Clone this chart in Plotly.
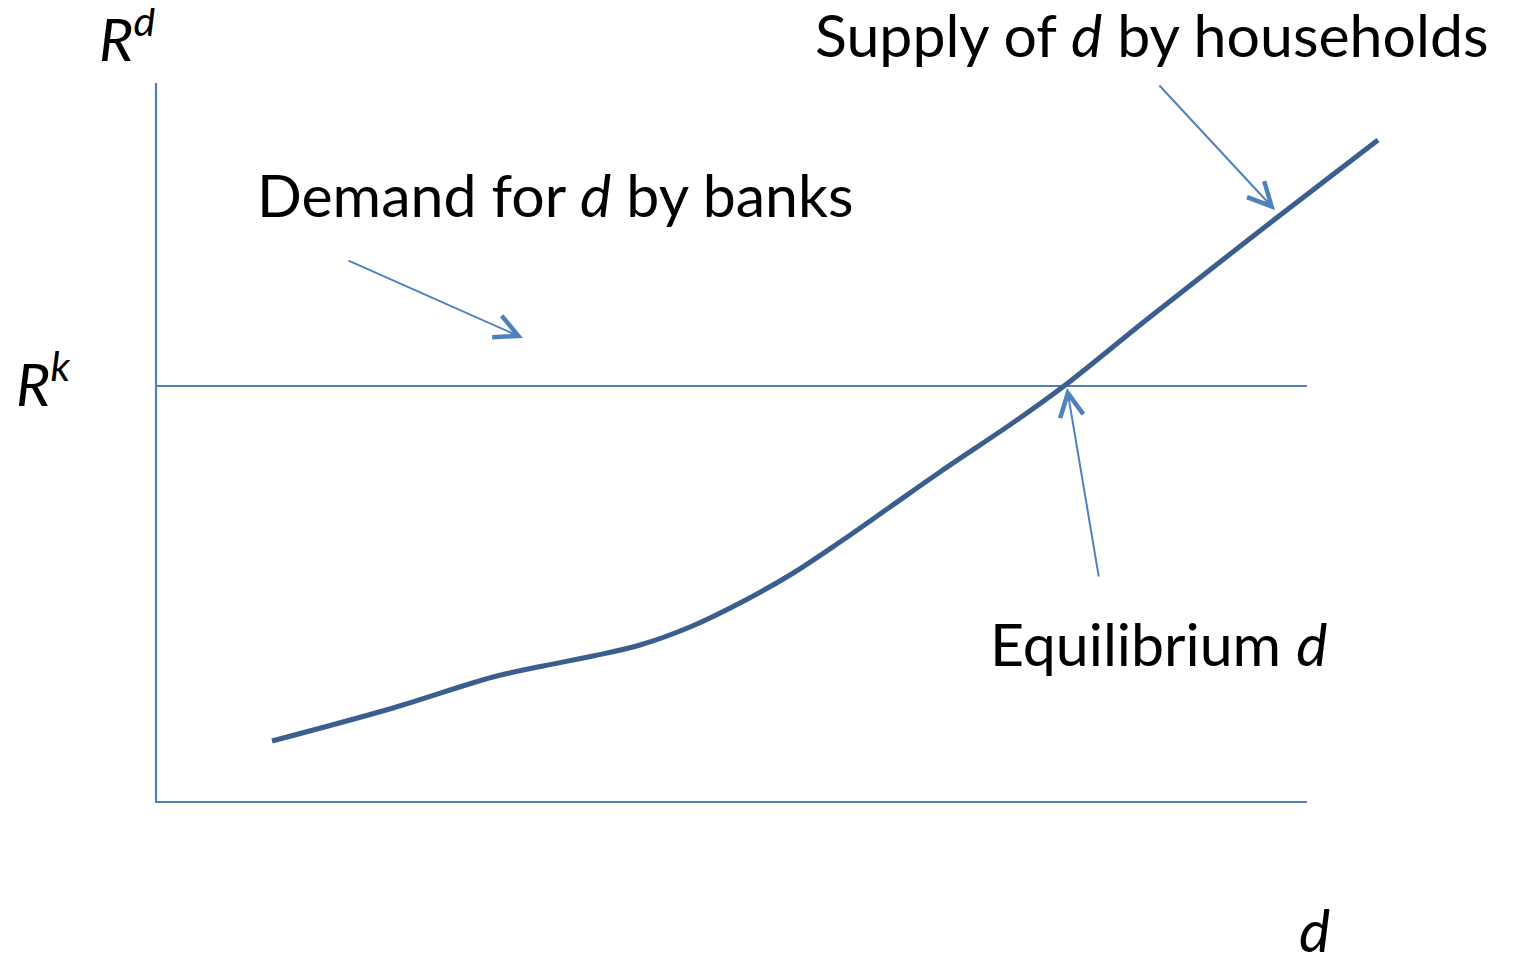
import plotly.graph_objects as go

# ---- data (chart units: d along x, R along y; origin at the axes corner) ----
supply_d = [1.16, 2.37, 3.37, 3.87, 4.37, 4.84, 5.34, 5.84, 6.34, 6.84, 7.34, 7.84, 8.61, 9.08, 9.94, 11.14, 12.22]
supply_r = [0.61, 0.94, 1.25, 1.36, 1.46, 1.57, 1.75, 1.99, 2.27, 2.60, 2.95, 3.30, 3.82, 4.16, 4.85, 5.79, 6.62]

r_k = 4.16          # deposit demand rate level (= R^k)
d_max = 11.51       # end of horizontal axis
r_max = 7.19        # top of vertical axis

# arrows: (tail_d, tail_r, head_d, head_r)
arrow_supply = (10.02, 7.18, 11.19, 5.92)
arrow_demand = (1.91, 5.42, 3.67, 4.64)
arrow_equil = (9.43, 2.24, 9.11, 4.14)

# labels: (text, left_d, baseline_r)
labels = [
    ("<i>R<sup>d</sup></i>", -0.59, 7.45),
    ("<i>R<sup>k</sup></i>", -1.42, 4.00),
    ("Supply of <i>d</i> by households", 6.57, 7.45),
    ("Demand for <i>d</i> by banks", 0.99, 5.85),
    ("Equilibrium <i>d</i>", 8.32, 1.36),
    ("<i>d</i>", 11.41, -1.50),
]

AXIS_BLUE = "#4F81BD"
CURVE_BLUE = "#3A5F8F"
FONT = "Lato"
FS = 59

fig = go.Figure()

# axes
fig.add_trace(go.Scatter(x=[0, 0, d_max], y=[r_max, 0, 0], mode="lines",
                         line=dict(color=AXIS_BLUE, width=2.2), hoverinfo="skip"))
# demand line (horizontal at R^k)
fig.add_trace(go.Scatter(x=[0, d_max], y=[r_k, r_k], mode="lines",
                         line=dict(color=AXIS_BLUE, width=2), hoverinfo="skip"))
# supply curve
fig.add_trace(go.Scatter(x=supply_d, y=supply_r, mode="lines",
                         line=dict(color=CURVE_BLUE, width=5, shape="spline", smoothing=1.0),
                         hoverinfo="skip"))

# arrows
for (td, tr, hd, hr) in [arrow_supply, arrow_demand, arrow_equil]:
    fig.add_annotation(x=hd, y=hr, ax=td, ay=tr, xref="x", yref="y", axref="x", ayref="y",
                       text="", showarrow=True, arrowhead=5, arrowsize=2.3, arrowwidth=2,
                       arrowcolor=AXIS_BLUE, standoff=0)

# labels (shift up from baseline so that the text sits on it)
for text, ld, br in labels:
    fig.add_annotation(x=ld, y=br, xref="x", yref="y", text=text, showarrow=False,
                       xanchor="left", yanchor="middle", yshift=0.387 * FS,
                       font=dict(family=FONT, size=FS, color="black"))

# the page body has an 8px margin, so the figure is 8px smaller and its ranges start 8px in
fig.update_layout(
    width=1505, height=947,
    margin=dict(l=0, r=0, t=0, b=0),
    paper_bgcolor="white", plot_bgcolor="white",
    showlegend=False,
    xaxis=dict(range=[-1.48, 13.57], visible=False, fixedrange=True),
    yaxis=dict(range=[-1.53, 7.94], visible=False, fixedrange=True),
)

fig.write_html("out.html")
